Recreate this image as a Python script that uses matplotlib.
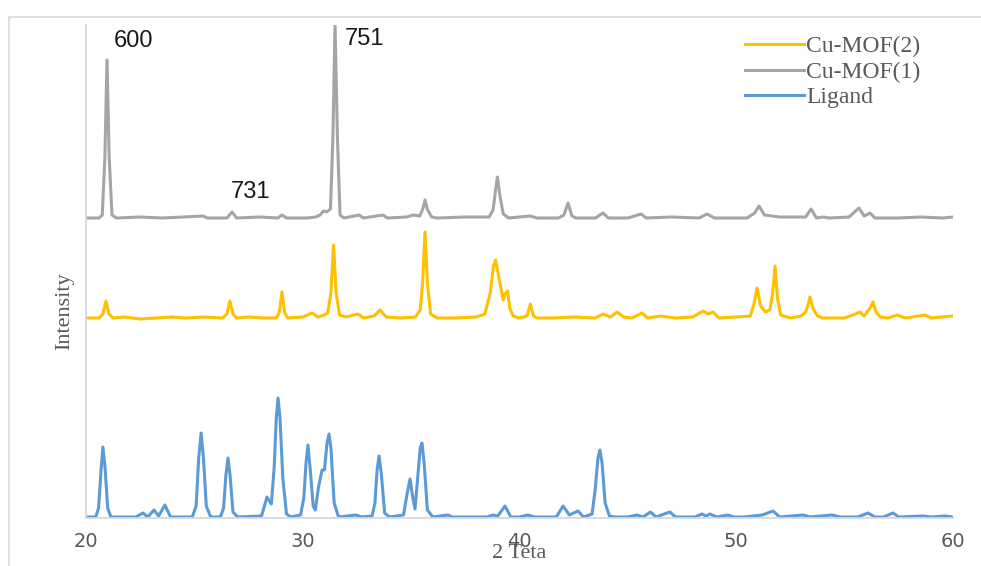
import matplotlib.pyplot as plt
from matplotlib.patches import Rectangle

# XRD patterns as (2theta, intensity above baseline) vertices
mof1_pts = [(20.0, 0), (20.6, 0), (20.75, 3), (20.87, 60), (20.97, 158), (21.07, 60), (21.2, 3), (21.4, 0),
            (22.5, 1), (23.5, 0), (24.5, 1), (25.4, 2), (25.6, 0), (26.5, 0), (26.74, 6), (26.95, 0),
            (28.0, 1), (28.85, 0), (29.04, 3), (29.25, 0), (30.2, 0), (30.6, 1), (30.8, 3), (30.95, 7),
            (31.1, 6), (31.28, 9), (31.39, 80), (31.49, 194), (31.6, 80), (31.72, 3), (31.9, 0),
            (32.6, 3), (32.8, 0), (33.7, 3), (33.9, 0), (34.8, 1), (35.1, 3), (35.4, 2), (35.54, 9),
            (35.64, 18), (35.76, 8), (35.95, 1), (36.2, 0), (37.5, 1), (38.6, 1), (38.78, 8), (38.88, 25),
            (38.98, 41), (39.1, 22), (39.25, 4), (39.5, 0), (40.5, 2), (40.8, 0), (41.8, 0), (42.05, 3),
            (42.24, 15), (42.42, 2), (42.6, 0), (43.5, 0), (43.85, 5), (44.1, 0), (45.0, 0), (45.61, 4),
            (45.85, 0), (47.0, 1), (48.3, 0), (48.65, 4), (49.0, 0), (50.5, 0), (50.85, 5), (51.05, 12),
            (51.3, 3), (52.0, 1), (53.2, 1), (53.45, 9), (53.7, 0), (54.0, 1), (54.3, 0), (55.2, 1),
            (55.66, 10), (55.9, 2), (56.17, 5), (56.4, 0), (57.5, 0), (58.5, 1), (59.5, 0), (60.0, 1)]

mof2_pts = [(20.0, 0), (20.6, 0), (20.78, 4), (20.92, 17), (21.06, 4), (21.25, 0), (21.8, 1), (22.5, -1),
            (23.2, 0), (24.0, 1), (24.6, 0), (25.4, 1), (26.3, 0), (26.5, 4), (26.64, 17), (26.78, 4),
            (26.95, 0), (27.5, 1), (28.2, 0), (28.8, 0), (28.92, 6), (29.04, 26), (29.16, 6), (29.3, 0),
            (30.0, 1), (30.43, 5), (30.7, 1), (31.0, 3), (31.15, 5), (31.3, 25), (31.42, 73), (31.54, 25),
            (31.7, 3), (32.0, 1), (32.55, 4), (32.8, 0), (33.3, 2), (33.56, 8), (33.85, 1), (34.5, 0),
            (35.2, 1), (35.42, 8), (35.53, 35), (35.64, 86), (35.75, 35), (35.9, 4), (36.2, 0), (37.0, 0),
            (38.0, 1), (38.4, 4), (38.65, 25), (38.8, 52), (38.9, 58), (39.05, 40), (39.25, 18),
            (39.33, 24), (39.45, 27), (39.55, 10), (39.7, 2), (40.0, 0), (40.35, 2), (40.5, 14),
            (40.65, 2), (40.8, 0), (41.5, 0), (42.5, 1), (43.5, 0), (43.85, 4), (44.2, 1), (44.5, 6),
            (44.8, 1), (45.2, 0), (45.65, 5), (45.9, 0), (46.5, 2), (47.2, 0), (48.0, 1), (48.47, 7),
            (48.7, 4), (48.93, 6), (49.2, 0), (50.0, 1), (50.65, 2), (50.82, 14), (50.96, 30), (51.12, 12),
            (51.35, 6), (51.55, 8), (51.68, 25), (51.79, 52), (51.9, 20), (52.05, 3), (52.5, 0), (53.0, 2),
            (53.2, 6), (53.3, 12), (53.4, 21), (53.55, 9), (53.75, 2), (54.0, 0), (55.0, 0), (55.5, 4),
            (55.71, 6), (55.9, 2), (56.18, 10), (56.31, 16), (56.45, 6), (56.65, 1), (57.0, 0),
            (57.42, 3), (57.8, 0), (58.71, 3), (59.0, 0), (59.5, 1), (60.0, 2)]

ligand_pts = [(20.0, 1), (20.45, 1), (20.58, 10), (20.7, 50), (20.78, 71), (20.88, 50), (21.0, 10), (21.15, 1),
              (22.3, 1), (22.63, 5), (22.85, 1), (23.14, 8), (23.35, 2), (23.64, 13), (23.9, 1), (24.9, 1),
              (25.08, 12), (25.2, 60), (25.31, 85), (25.42, 60), (25.55, 12), (25.75, 1), (26.2, 1),
              (26.35, 10), (26.45, 42), (26.55, 60), (26.65, 42), (26.78, 6), (27.0, 1), (28.1, 2),
              (28.35, 21), (28.55, 14), (28.68, 50), (28.78, 100), (28.86, 120), (28.95, 100), (29.08, 40),
              (29.25, 4), (29.45, 1), (29.9, 3), (30.05, 20), (30.15, 55), (30.24, 73), (30.34, 50),
              (30.48, 12), (30.58, 8), (30.72, 30), (30.89, 48), (31.0, 48), (31.12, 75), (31.21, 84),
              (31.3, 70), (31.45, 15), (31.65, 1), (32.46, 3), (32.7, 1), (33.2, 2), (33.33, 15),
              (33.43, 48), (33.52, 62), (33.62, 45), (33.78, 5), (34.0, 1), (34.65, 3), (34.82, 25),
              (34.95, 39), (35.08, 20), (35.18, 9), (35.3, 40), (35.42, 70), (35.5, 75), (35.6, 55),
              (35.75, 8), (36.0, 1), (36.7, 3), (36.9, 1), (38.5, 1), (38.78, 3), (39.0, 2), (39.33, 12),
              (39.6, 1), (40.0, 1), (40.39, 3), (40.7, 1), (41.7, 1), (42.01, 12), (42.3, 3), (42.7, 7),
              (42.95, 1), (43.35, 4), (43.5, 30), (43.62, 60), (43.71, 68), (43.81, 55), (43.95, 15),
              (44.15, 2), (44.4, 1), (45.0, 1), (45.42, 3), (45.7, 1), (46.04, 6), (46.3, 1), (46.94, 6),
              (47.2, 1), (48.1, 1), (48.42, 4), (48.6, 2), (48.79, 4), (49.1, 1), (49.62, 3), (49.9, 1),
              (50.4, 1), (50.77, 2), (51.2, 3), (51.7, 7), (52.0, 1), (53.08, 3), (53.4, 1), (54.42, 3),
              (54.8, 1), (55.6, 1), (56.08, 5), (56.4, 1), (56.8, 1), (57.23, 5), (57.5, 1), (58.62, 2),
              (59.0, 1), (59.63, 2), (60.0, 1)]

offset_mof1 = 300
offset_mof2 = 200

peak_labels = ['600', '731', '751']
peak_theta = [20.97, 26.74, 31.49]

fig = plt.figure(figsize=(9.81, 5.66), dpi=100)
ax = fig.add_axes([86 / 981, 48 / 566, 867 / 981, 493 / 566])

x2, y2 = zip(*mof2_pts)
x1, y1 = zip(*mof1_pts)
xl, yl = zip(*ligand_pts)
ax.plot(x2, [v + offset_mof2 for v in y2], color='#FFC000', lw=2.2, label='Cu-MOF(2)')
ax.plot(x1, [v + offset_mof1 for v in y1], color='#A5A5A5', lw=2.2, label='Cu-MOF(1)')
ax.plot(xl, yl, color='#5B9BD5', lw=2.2, label='Ligand')

# peak annotations above the Cu-MOF(1) trace
ax.text(peak_theta[0] + 0.3, 471, peak_labels[0], fontsize=17, family='Liberation Sans', color='#1a1a1a')
ax.text(peak_theta[1] - 0.05, 320, peak_labels[1], fontsize=17, family='Liberation Sans', color='#1a1a1a')
ax.text(peak_theta[2] + 0.45, 473, peak_labels[2], fontsize=17, family='Liberation Sans', color='#1a1a1a')

ax.set_xlim(20, 60)
ax.set_ylim(0, 493)
ax.set_xticks([20, 30, 40, 50, 60])
ax.set_yticks([])
ax.tick_params(axis='x', length=0, pad=10, labelsize=14, labelcolor='#595959')
for side in ['top', 'right']:
    ax.spines[side].set_visible(False)
for side in ['left', 'bottom']:
    ax.spines[side].set_color('#D9D9D9')
    ax.spines[side].set_linewidth(1.3)

ax.set_xlabel('2 Teta', family='Liberation Serif', fontsize=16, color='#595959')
ax.xaxis.set_label_coords(0.5, -0.052)
ax.set_ylabel('Intensity', family='Liberation Serif', fontsize=16, color='#595959')
ax.yaxis.set_label_coords(-0.013, 0.42)

leg = ax.legend(loc='upper left', bbox_to_anchor=(733 / 981, 1 - 24 / 566), bbox_transform=fig.transFigure,
                frameon=False, prop={'family': 'Liberation Serif', 'size': 17},
                handlelength=2.5, handletextpad=0.1, labelspacing=0.17, borderpad=0)
for t in leg.get_texts():
    t.set_color('#595959')

# light frame around the chart area
fig.patches.append(Rectangle((8.5 / 981, -0.1), 1.2, 1.1 - 17 / 566, transform=fig.transFigure,
                             fill=False, edgecolor='#D9D9D9', lw=1.2))

fig.savefig('out.png', dpi=100)
